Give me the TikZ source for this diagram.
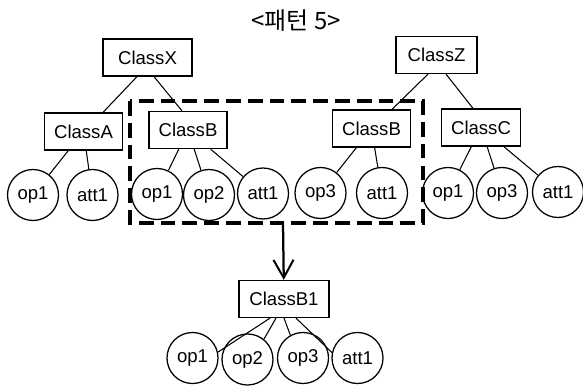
\documentclass[tikz,border=0pt]{standalone}
\usepackage{fontspec}
\setmainfont{Liberation Sans}
\newfontfamily\krfont{Noto Sans CJK KR}
\usetikzlibrary{arrows.meta,calc,positioning}
\tikzset{%
	classbox/.style = {draw, rectangle, line width=0.9pt, minimum height=0.925cm, inner xsep=0.24cm, text centered, font=\fontsize{13.2}{15}\selectfont},
	member/.style   = {draw, circle, line width=0.9pt, minimum size=1.275cm, inner sep=0pt, font=\fontsize{13.2}{15}\selectfont},
	link/.style     = {line width=0.75pt},
	group/.style    = {line width=2.6pt, dash pattern=on 10.5pt off 5pt},
	arrow/.style    = {line width=1.6pt, -{Straight Barb[length=0.45cm, width=0.5cm, line width=1.4pt]}},
}
\begin{document}
\begin{tikzpicture}[x=0.025cm, y=-0.025cm]
		\useasboundingbox (0,0) rectangle (583,387);
		\node[font=\krfont\fontsize{17}{19}\selectfont] (title) at (296,21) {<패턴 5>};
		
		% upper trees
		\node[classbox, minimum width=2.225cm] (cX) at (147.5,57.5) {ClassX};
		\node[classbox] (cA) at (83.5,131.5) {ClassA};
		\node[classbox] (cB) at (188,130) {ClassB};
		\node[classbox, minimum width=2.025cm] (cZ) at (436.5,55) {ClassZ};
		\node[classbox] (cB2) at (371.5,128.5) {ClassB};
		\node[classbox] (cC) at (481,127.5) {ClassC};
		\draw[link] ($(cX.south)+(-10.5,0)$) -- ($(cA.north)+(19.5,0)$);
		\draw[link] ($(cX.south)+(6.5,0)$) -- ($(cB.north)+(-6,0)$);
		\draw[link] ($(cZ.south)+(-8.5,0)$) -- ($(cB2.north)+(20.5,0)$);
		\draw[link] ($(cZ.south)+(9.5,0)$) -- ($(cC.north)+(-8,0)$);
		
		\node[member] (a1) at (33,195) {op1};
		\node[member] (a2) at (92.5,195) {att1};
		\node[member] (b1) at (157,194) {op1};
		\node[member] (b2) at (209,195) {op2};
		\node[member] (b3) at (263,193.5) {att1};
		\node[member] (d1) at (320.5,193) {op3};
		\node[member] (d2) at (382,193) {att1};
		\node[member] (e1) at (448,193) {op1};
		\node[member] (e2) at (502,193) {op3};
		\node[member] (e3) at (558,192) {att1};
		\foreach \cls/\mem in {cA/a1,cA/a2,cB/b1,cB/b2,cB/b3,cB2/d1,cB2/d2,cC/e1,cC/e2,cC/e3}
			\draw[link] (\cls) -- (\mem);
		
		% merged class
		\draw[group] (130,101) rectangle (423,223);
		\coordinate (grp) at (283,223);
		\node[classbox, minimum width=2.25cm] (cB1) at (284,299) {ClassB1};
		\draw[arrow] (grp) -- (cB1);
		
		\node[member] (m1) at (192.5,358) {op1};
		\node[member] (m2) at (247.5,359.5) {op2};
		\node[member] (m3) at (303,358) {op3};
		\node[member] (m4) at (357.5,358) {att1};
		\draw[link] ($(cB1.south)+(-14,0)$) -- (m1.13);
		\draw[link] ($(cB1.south)+(-8,0)$) -- (m2.51);
		\draw[link] (cB1.south) -- (m3.119);
		\draw[link] ($(cB1.south)+(12,0)$) -- (m4.168);
\end{tikzpicture}
\end{document}
